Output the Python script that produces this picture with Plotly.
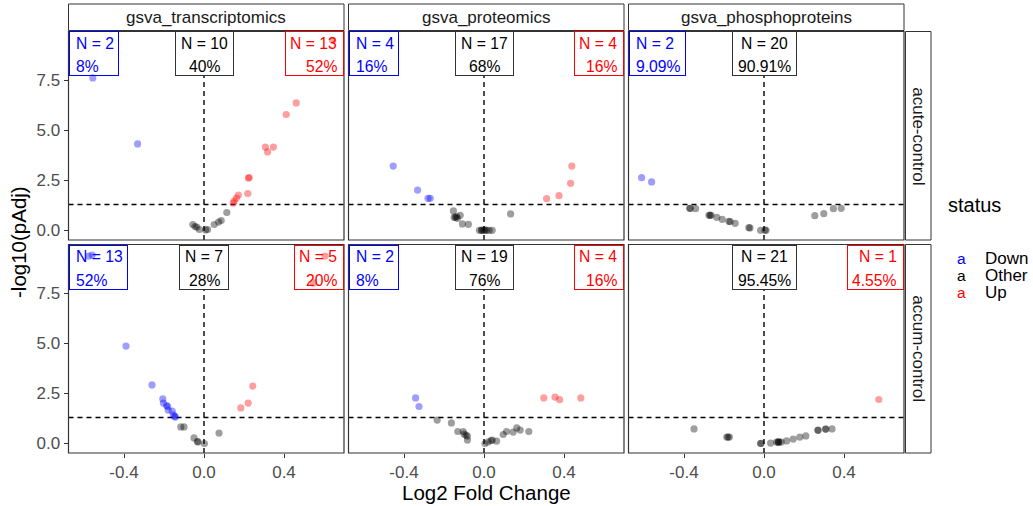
import math
import plotly.graph_objects as go

W, H = 1033, 506
FONT = "Liberation Sans, Arial, sans-serif"

omics = ["gsva_transcriptomics", "gsva_proteomics", "gsva_phosphoproteins"]
contrasts = ["acute-control", "accum-control"]
x_ticks = [-0.4, 0.0, 0.4]
x_tick_labels = ["-0.4", "0.0", "0.4"]
y_ticks = [0.0, 2.5, 5.0, 7.5]
y_tick_labels = ["0.0", "2.5", "5.0", "7.5"]
p_threshold = 0.05

# ---- data: log2 fold change and -log10(pAdj) per panel ----
tx_acute_lfc = [-0.556, -0.332, 0.643, 0.461, 0.411, 0.307, 0.347, 0.318, 0.222, 0.226, 0.219, 0.172, 0.162,
                0.151, 0.146, 0.114, 0.086, 0.073, 0.051, 0.018, 0.008, -0.023, -0.036, -0.056, -0.045]
tx_acute_nlp = [7.63, 4.33, 9.5, 6.38, 5.8, 4.17, 4.17, 3.93, 2.62, 2.65, 1.85, 1.77, 1.62,
                1.47, 1.37, 0.9, 0.5, 0.42, 0.3, 0.05, 0.03, 0.05, 0.17, 0.3, 0.2]

pr_acute_lfc = [-0.454, -0.332, -0.28, -0.269, 0.439, 0.433, 0.375, 0.313, 0.133, -0.153, -0.143, -0.133,
                -0.119, -0.108, -0.078, -0.149, -0.137, -0.023, -0.012, 0.0, 0.013, 0.026, 0.041, -0.010, 0.005]
pr_acute_nlp = [3.22, 2.02, 1.61, 1.61, 3.22, 2.36, 1.74, 1.59, 0.83, 0.98, 0.66, 0.61,
                0.76, 0.33, 0.31, 0.66, 0.70, 0.01, 0.01, 0.01, 0.01, 0.01, 0.01, 0.02, 0.03]

ph_acute_lfc = [-0.612, -0.562, -0.372, -0.342, -0.368, -0.275, -0.265, -0.27, -0.236, -0.209, -0.176,
                -0.169, -0.144, -0.076, -0.07, -0.017, 0.01, 0.254, 0.299, 0.347, 0.386, 0.005]
ph_acute_nlp = [2.64, 2.43, 1.11, 1.09, 1.11, 0.76, 0.76, 0.77, 0.66, 0.56, 0.46,
                0.44, 0.36, 0.14, 0.13, 0.01, 0.01, 0.74, 0.84, 1.09, 1.11, 0.02]

tx_accum_lfc = [-0.576, -0.559, -0.39, -0.26, -0.206, -0.203, -0.187, -0.182, -0.179, -0.159, -0.153, -0.146,
                -0.144, 0.605, 0.547, 0.244, 0.221, 0.184, -0.116, -0.1, -0.05, -0.033, -0.03, 0.002, 0.075]
tx_accum_nlp = [9.37, 9.42, 4.87, 2.93, 2.23, 2.02, 1.9, 1.85, 1.67, 1.62, 1.43, 1.36,
                1.32, 9.37, 8.03, 2.87, 2.02, 1.78, 0.83, 0.83, 0.28, 0.1, 0.08, 0.0, 0.52]

pr_accum_lfc = [-0.342, -0.325, 0.299, 0.355, 0.378, 0.484, -0.234, -0.163, -0.131, -0.104, -0.1, -0.083,
                -0.083, -0.09, 0.005, 0.021, 0.036, 0.041, 0.063, 0.096, 0.113, 0.146, 0.164, 0.181, 0.224]
pr_accum_nlp = [2.28, 1.85, 2.28, 2.32, 2.19, 2.28, 1.17, 1.03, 0.6, 0.6, 0.47, 0.37,
                0.17, 0.42, 0.0, 0.08, 0.15, 0.17, 0.12, 0.45, 0.6, 0.57, 0.78, 0.67, 0.6]

ph_accum_lfc = [0.574, -0.35, -0.186, -0.173, -0.18, -0.017, -0.015, 0.033, 0.063, 0.073, 0.07,
                0.075, 0.086, 0.113, 0.146, 0.179, 0.209, 0.27, 0.27, 0.307, 0.31, 0.34]
ph_accum_nlp = [2.2, 0.73, 0.32, 0.32, 0.32, 0.0, 0.01, 0.02, 0.07, 0.07, 0.07,
                0.08, 0.07, 0.13, 0.22, 0.32, 0.38, 0.67, 0.66, 0.72, 0.72, 0.73]

panels = [
    [(tx_acute_lfc, tx_acute_nlp), (pr_acute_lfc, pr_acute_nlp), (ph_acute_lfc, ph_acute_nlp)],
    [(tx_accum_lfc, tx_accum_nlp), (pr_accum_lfc, pr_accum_nlp), (ph_accum_lfc, ph_accum_nlp)],
]

# ---- styling ----
status_colors = {"Down": "#0000FF", "Other": "#000000", "Up": "#FF0000"}
status_rgba = {"Down": "rgba(0,0,255,0.38)", "Other": "rgba(0,0,0,0.38)", "Up": "rgba(255,0,0,0.38)"}
col_px = [(68.5, 344.0), (348.5, 624.0), (628.5, 904.0)]
row_px = [(31.5, 240.0), (244.5, 453.0)]
x_range = [-0.6775, 0.70]
y_range = [-0.475, 9.95]
border = "#333333"
label_fs = 15.7
char_w = {"N": 0.722, " ": 0.278, "=": 0.584, "%": 0.889, ".": 0.278}


def text_w(s, fs):
    return sum(char_w.get(c, 0.556) for c in s) * fs


hline = -math.log10(p_threshold)


def status_of(l, n):
    if n > hline:
        return "Up" if l > 0 else "Down"
    return "Other"


fig = go.Figure()
shapes = []
annotations = []
dash_style = dict(color="black", width=1.4, dash="5px,4px")

for r in range(2):
    for c in range(3):
        idx = r * 3 + c + 1
        xa = "x" if idx == 1 else f"x{idx}"
        ya = "y" if idx == 1 else f"y{idx}"
        xkey = "xaxis" if idx == 1 else f"xaxis{idx}"
        ykey = "yaxis" if idx == 1 else f"yaxis{idx}"
        lfc, nlp = panels[r][c]
        stats = [status_of(l, n) for l, n in zip(lfc, nlp)]
        fig.add_trace(go.Scatter(
            x=lfc, y=nlp, mode="markers", xaxis=xa, yaxis=ya, showlegend=False,
            marker=dict(size=7.2, color=[status_rgba[s] for s in stats], line=dict(width=0)),
            hoverinfo="skip"))
        x0, x1 = col_px[c]
        y0, y1 = row_px[r]
        fig.update_layout({
            xkey: dict(domain=[x0 / W, x1 / W], range=x_range, anchor=ya, showgrid=False, zeroline=False,
                       tickvals=x_ticks, ticktext=x_tick_labels,
                       showticklabels=(r == 1), ticks="outside" if r == 1 else "",
                       ticklen=4, tickwidth=1.1, tickcolor=border,
                       tickfont=dict(size=17, color="#4D4D4D", family=FONT),
                       showline=False, fixedrange=True),
            ykey: dict(domain=[1 - y1 / H, 1 - y0 / H], range=y_range, anchor=xa, showgrid=False, zeroline=False,
                       tickvals=y_ticks, ticktext=y_tick_labels,
                       showticklabels=(c == 0), ticks="outside" if c == 0 else "",
                       ticklen=4, tickwidth=1.1, tickcolor=border,
                       tickfont=dict(size=17, color="#4D4D4D", family=FONT),
                       showline=False, fixedrange=True),
        })
        # dashed reference lines
        shapes.append(dict(type="line", xref=xa, yref=f"{ya} domain", x0=0, x1=0, y0=0, y1=1,
                           line=dash_style, layer="below"))
        shapes.append(dict(type="line", xref=f"{xa} domain", yref=ya, x0=0, x1=1, y0=hline, y1=hline,
                           line=dash_style, layer="below"))
        # panel border
        shapes.append(dict(type="rect", xref=f"{xa} domain", yref=f"{ya} domain", x0=0, x1=1, y0=0, y1=1,
                           line=dict(color=border, width=1.2), layer="above"))
        # count labels
        total = len(stats)
        for s, pos in (("Down", "left"), ("Other", "center"), ("Up", "right")):
            n = stats.count(s)
            if n == 0:
                continue
            pct = round(100.0 * n / total, 2)
            line1 = f"N = {n}"
            line2 = f"{pct:g}%"
            bw = max(text_w(line1, label_fs), text_w(line2, label_fs)) + 10.0
            if pos == "left":
                bx, bxref, anchor, tshift = 0, f"{xa} domain", "left", 5.0
            elif pos == "right":
                bx, bxref, anchor, tshift = 1, f"{xa} domain", "right", -5.0
            else:
                bx, bxref, anchor, tshift = 0, xa, "center", 0
            annotations.append(dict(
                x=bx, xref=bxref, xanchor=anchor, y=1, yref=f"{ya} domain", yanchor="top",
                text=" ", showarrow=False, width=bw, height=43, borderpad=0, borderwidth=1,
                bordercolor=status_colors[s] if s != "Other" else "#333333",
                bgcolor="white" if s == "Other" else "rgba(255,255,255,0)",
                font=dict(size=label_fs, family=FONT)))
            for txt, dy in ((line1, -12.0), (line2, -35.5)):
                annotations.append(dict(
                    x=bx, xref=bxref, xanchor=anchor, xshift=tshift, y=1, yref=f"{ya} domain",
                    yanchor="middle", yshift=dy, text=txt, showarrow=False, align=pos,
                    font=dict(size=label_fs, family=FONT, color=status_colors[s])))

# strips (top)
for c, name in enumerate(omics):
    x0, x1 = col_px[c]
    shapes.append(dict(type="rect", xref="paper", yref="paper", x0=x0 / W, x1=x1 / W,
                       y0=1 - 30.5 / H, y1=1 - 4 / H, fillcolor="white",
                       line=dict(color=border, width=1), layer="above"))
    annotations.append(dict(x=(x0 + x1) / 2 / W, y=1 - 17.5 / H, xref="paper", yref="paper",
                            text=name, showarrow=False, xanchor="center", yanchor="middle",
                            font=dict(size=17, family=FONT, color="#1A1A1A")))
# strips (right)
for r, name in enumerate(contrasts):
    y0, y1 = row_px[r]
    shapes.append(dict(type="rect", xref="paper", yref="paper", x0=905.5 / W, x1=931 / W,
                       y0=1 - y1 / H, y1=1 - y0 / H, fillcolor="white",
                       line=dict(color=border, width=1), layer="above"))
    annotations.append(dict(x=918.5 / W, y=1 - (y0 + y1) / 2 / H, xref="paper", yref="paper",
                            text=name, showarrow=False, textangle=90, xanchor="center", yanchor="middle",
                            font=dict(size=17, family=FONT, color="#1A1A1A")))

# axis titles
annotations.append(dict(x=486 / W, y=1 - 492 / H, xref="paper", yref="paper", text="Log2 Fold Change",
                        showarrow=False, xanchor="center", yanchor="middle",
                        font=dict(size=20.5, family=FONT, color="black")))
annotations.append(dict(x=18 / W, y=1 - 242 / H, xref="paper", yref="paper", text="-log10(pAdj)",
                        showarrow=False, textangle=-90, xanchor="center", yanchor="middle",
                        font=dict(size=20.5, family=FONT, color="black")))

# legend
annotations.append(dict(x=946 / W, y=1 - 205 / H, xref="paper", yref="paper", text="status",
                        showarrow=False, xanchor="left", yanchor="middle",
                        font=dict(size=20, family=FONT, color="black")))
for i, s in enumerate(["Down", "Other", "Up"]):
    yy = 258 + 17.3 * i
    annotations.append(dict(x=961 / W, y=1 - yy / H, xref="paper", yref="paper", text="a",
                            showarrow=False, xanchor="center", yanchor="middle",
                            font=dict(size=15.5, family=FONT, color=status_colors[s])))
    annotations.append(dict(x=983 / W, y=1 - yy / H, xref="paper", yref="paper", text=s,
                            showarrow=False, xanchor="left", yanchor="middle",
                            font=dict(size=17, family=FONT, color="black")))

fig.update_layout(
    width=W, height=H, margin=dict(l=0, r=0, t=0, b=0),
    paper_bgcolor="white", plot_bgcolor="white",
    shapes=shapes, annotations=annotations, showlegend=False,
    font=dict(family=FONT),
)
fig.write_html("out.html")
